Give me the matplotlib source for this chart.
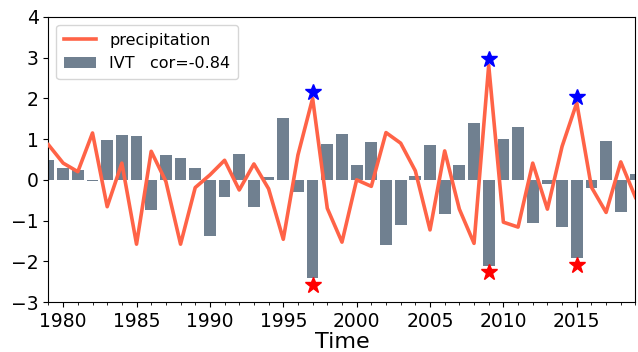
import matplotlib
matplotlib.use("Agg")
import matplotlib.pyplot as plt
import numpy as np
from matplotlib.ticker import MultipleLocator

years = list(range(1979, 2020))
ivt = [0.49, 0.30, 0.25, -0.04, 0.98, 1.11, 1.08, -0.75, 0.60, 0.54,
       0.30, -1.39, -0.43, 0.64, -0.67, 0.07, 1.52, -0.31, -2.42, 0.89,
       1.13, 0.37, 0.93, -1.59, -1.10, 0.10, 0.86, -0.85, 0.37, 1.40,
       -2.11, 1.01, 1.30, -1.05, -0.11, -1.17, -1.93, -0.21, 0.96, -0.80,
       0.15]
precip = [0.86, 0.41, 0.20, 1.15, -0.66, 0.41, -1.58, 0.70, -0.04, -1.58,
          -0.19, 0.12, 0.48, -0.25, 0.39, -0.22, -1.46, 0.61, 2.00, -0.70,
          -1.53, 0.00, -0.16, 1.16, 0.90, 0.22, -1.23, 0.71, -0.72, -1.56,
          2.81, -1.04, -1.16, 0.41, -0.72, 0.82, 1.89, -0.18, -0.80, 0.44,
          -0.43]
star_years = [1997, 2009, 2015]
star_offset = 0.15
cor_label = "IVT   cor=-0.84"

fig = plt.figure(figsize=(6.38, 3.52), dpi=100)
ax = fig.add_axes([0.076, 0.142, 0.920, 0.810])

ax.bar(years, ivt, width=0.8, color="slategrey", label=cor_label, zorder=2)
ax.plot(years, precip, color="tomato", lw=2.6, label="precipitation", zorder=3)

idx = [years.index(y) for y in star_years]
ax.plot(star_years, [precip[i] + star_offset for i in idx], linestyle="none",
        marker="*", markersize=12, color="blue", zorder=4)
ax.plot(star_years, [ivt[i] - star_offset for i in idx], linestyle="none",
        marker="*", markersize=12, color="red", zorder=4)

ax.set_xlim(1979, 2019)
ax.set_ylim(-3, 4)
ax.set_yticks(range(-3, 5))
ax.set_xticks(range(1980, 2020, 5))
ax.xaxis.set_minor_locator(MultipleLocator(1))
ax.tick_params(axis="both", which="major", labelsize=13.5)
ax.set_xlabel("Time", fontsize=16, labelpad=1)

ax.legend(loc="upper left", fontsize=11.5, handlelength=2.0,
          labelspacing=0.5, borderpad=0.5, borderaxespad=0.5)

fig.savefig("out.png", dpi=100)
